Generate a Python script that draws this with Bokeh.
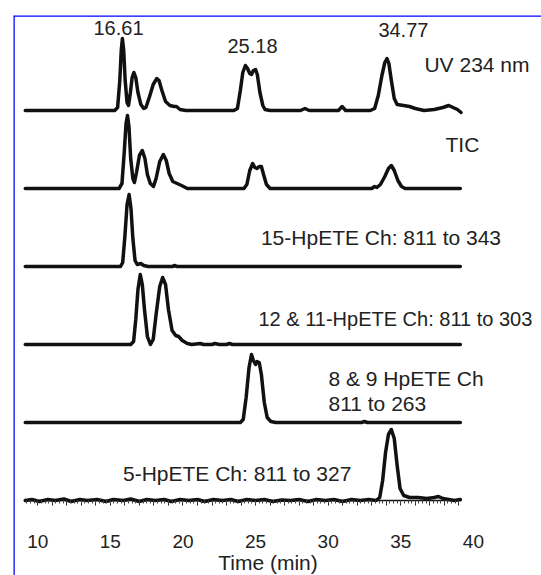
from bokeh.plotting import figure
from bokeh.models import Range1d, LinearAxis, FixedTicker, SingleIntervalTicker, Span
from bokeh.core.properties import value
from bokeh.embed import file_html
from bokeh.resources import INLINE

# ---------------- data (time in min, relative signal) ----------------
uv_time = [9.14, 12.0, 15.3, 15.5, 15.65, 15.75, 15.83, 15.92, 16.02, 16.15, 16.25, 16.38, 16.5, 16.62, 16.75,
           16.9, 17.1, 17.3, 17.45, 17.7, 17.95, 18.2, 18.35, 18.55, 18.8, 19.1, 19.4, 19.55, 19.8, 20.2,
           23.5, 23.75, 23.95, 24.12, 24.3, 24.45, 24.6, 24.72, 24.85, 25.0, 25.12, 25.3, 25.5, 25.65, 26.0,
           28.1, 28.4, 28.7, 30.7, 30.96, 31.2, 32.9, 33.2, 33.45, 33.7, 33.9, 34.05, 34.18, 34.35, 34.55,
           34.75, 35.2, 35.6, 36.0, 36.6, 37.3, 37.9, 38.3, 38.6, 38.9, 39.15]
uv_signal = [0, 0, 0, 3, 30, 60, 72, 60, 30, 8, 5, 18, 33, 38, 33,
             18, 6, 2, 3, 14, 26, 32, 30, 20, 9, 5, 4, 4, 1, 0,
             0, 2, 20, 38, 45, 42, 37, 36, 40, 41, 36, 18, 5, 1, 0,
             0, 2, 0, 0, 4, 0, 0, 2, 15, 35, 48, 52, 47, 30, 12,
             6, 5, 4, 2, 0, 1, 3, 5, 3, 1, -2]

tic_time = [9.14, 15.6, 15.8, 15.95, 16.08, 16.18, 16.28, 16.4, 16.55, 16.66, 16.8, 17.0, 17.2, 17.38, 17.55,
            17.75, 17.97, 18.15, 18.4, 18.65, 18.85, 19.05, 19.3, 19.6, 19.9, 20.3, 24.2, 24.4, 24.6, 24.8,
            24.95, 25.1, 25.25, 25.4, 25.55, 25.75, 26.0, 33.0, 33.2, 33.35, 33.6, 33.9, 34.15, 34.35, 34.55,
            34.8, 35.05, 35.3, 39.1]
tic_signal = [0, 0, 5, 35, 65, 73, 62, 30, 10, 6, 16, 33, 38, 30, 14,
              5, 2, 10, 27, 34, 28, 15, 7, 5, 3, 0, 0, 4, 18, 25,
              21, 20, 22, 22, 14, 4, 0, 0, 2, 1, 4, 12, 20, 23, 18,
              8, 2, 0, 0]

h15_time = [9.14, 15.7, 15.85, 16.0, 16.15, 16.29, 16.42, 16.55, 16.7, 16.85, 17.1, 17.3, 17.6, 19.3, 19.4, 19.6, 39.1]
h15_signal = [0, 0, 4, 30, 62, 72, 58, 28, 6, 2, 3, 1, 0, 0, 1, 0, 0]

h12_time = [9.14, 16.4, 16.6, 16.75, 16.9, 17.06, 17.2, 17.35, 17.55, 17.76, 17.95, 18.15, 18.4, 18.6, 18.8,
            19.0, 19.25, 19.5, 19.7, 19.95, 20.3, 20.6, 21.2, 21.4, 22.0, 22.2, 22.5, 23.0, 23.2, 23.4, 39.1]
h12_signal = [0, 0, 3, 25, 55, 70, 60, 35, 8, 0, 5, 30, 58, 67, 60,
              35, 14, 9, 8, 4, 1, 0, 1, 0, 0, 1, 0, 0, 1, 0, 0]

h8_time = [9.14, 23.95, 24.15, 24.35, 24.55, 24.72, 24.85, 25.0, 25.1, 25.25, 25.4, 25.6, 25.8, 26.05, 26.4,
           32.3, 32.5, 32.7, 39.1]
h8_signal = [0, 0, 3, 25, 55, 68, 62, 58, 61, 60, 48, 20, 5, 1, 0, 0, 1, 0, 0]

h5_time = [9.14, 9.6, 10.1, 10.7, 11.2, 11.8, 12.3, 12.9, 13.4, 14.1, 14.7, 15.2, 15.9, 16.4, 17.0, 17.5,
           18.1, 18.7, 19.2, 19.8, 20.4, 21.0, 21.5, 22.1, 22.7, 23.3, 23.8, 24.4, 25.0, 25.6, 26.2, 26.8,
           27.4, 28.0, 28.6, 29.2, 29.8, 30.4, 31.0, 31.6, 32.2, 32.8, 33.3, 33.55, 33.75, 33.95, 34.15,
           34.35, 34.55, 34.75, 34.95, 35.2, 35.6, 36.2, 36.8, 37.3, 37.6, 37.9, 38.3, 38.7, 39.1]
h5_signal = [0, 1, -1, 1, 0, 1.5, -1, 1, 0, 1, -1, 1, 0, 1.5, -1, 1,
             0, 1, -1, 1, 0, 1, -1, 1, 0, 1, -1, 1, 0, 1, -1, 0.5,
             0, 1, -1, 1, 0, 1, -1, 1, 0, 1, 0, 3, 20, 48, 66,
             71, 62, 35, 12, 5, 3, 3, 2, 3, 4, 2, 1, 0, 1]

tick_values = [10, 15, 20, 25, 30, 35, 40]

peak_labels = ["16.61", "25.18", "34.77"]
trace_labels = ["UV 234 nm", "TIC", "15-HpETE Ch: 811 to 343",
                "8 & 9 HpETE Ch", "811 to 263", "5-HpETE Ch: 811 to 327"]
label_12_11 = "12 & 11-HpETE Ch: 811 to 303"

# ---------------- layout ----------------
traces = [(uv_time, uv_signal), (tic_time, tic_signal), (h15_time, h15_signal),
          (h12_time, h12_signal), (h8_time, h8_signal), (h5_time, h5_signal)]
baselines = [465, 387, 309, 231, 153, 75]

X0, X1 = 8.33, 44.69
p = figure(width=541, height=575, output_backend="svg", toolbar_location=None,
           x_range=Range1d(X0, X1), y_range=Range1d(0, 560),
           x_axis_location=None, y_axis_location=None,
           min_border_left=13, min_border_right=0, min_border_top=15, min_border_bottom=0)
p.outline_line_color = None
p.xgrid.visible = False
p.ygrid.visible = False
p.background_fill_color = "white"
p.border_fill_color = "white"

for (t, s), b in zip(traces, baselines):
    p.line(list(t), [b + si for si in s], line_color="#111111", line_width=3.5,
           line_join="round", line_cap="round")

FONT = value("Liberation Sans")
p.text(x=[15.56, 24.79, 35.18], y=[548, 530, 546], text=peak_labels, text_font=FONT,
       text_font_size=value("20px"), text_align="center", text_baseline="middle", text_color="#222222")
p.text(x=[36.63, 38.08, 25.37, 30.02, 30.02, 15.87],
       y=[511, 431, 338, 197, 172, 102.5],
       text=trace_labels, text_font=FONT, text_font_size=value("21px"),
       text_align="left", text_baseline="middle", text_color="#222222")
p.text(x=[25.2], y=[257], text=[label_12_11], text_font=FONT, text_font_size=value("20px"),
       text_align="left", text_baseline="middle", text_color="#222222")

# axis line with ticks at the bottom trace
ax_ticks = LinearAxis(fixed_location=75, bounds=(9.14, 39.15),
                      ticker=SingleIntervalTicker(interval=1, num_minor_ticks=4))
ax_ticks.axis_line_color = "#111111"
ax_ticks.axis_line_width = 1.5
ax_ticks.major_tick_out = 5
ax_ticks.major_tick_in = 0
ax_ticks.minor_tick_out = 3
ax_ticks.minor_tick_in = 0
ax_ticks.major_tick_line_color = "#222222"
ax_ticks.minor_tick_line_color = "#444444"
ax_ticks.major_label_text_color = None
p.add_layout(ax_ticks, "below")

ax_labels = LinearAxis(fixed_location=75, bounds=(X0, 43.4), ticker=FixedTicker(ticks=tick_values),
                       axis_label="Time (min)")
ax_labels.axis_line_color = None
ax_labels.major_tick_line_color = None
ax_labels.minor_tick_line_color = None
ax_labels.major_tick_out = 0
ax_labels.major_label_standoff = 34
ax_labels.major_label_text_font = "Liberation Sans"
ax_labels.major_label_text_font_size = "19px"
ax_labels.major_label_text_color = "#222222"
ax_labels.axis_label_text_font = "Liberation Sans"
ax_labels.axis_label_text_font_size = "21px"
ax_labels.axis_label_text_font_style = "normal"
ax_labels.axis_label_text_color = "#222222"
ax_labels.axis_label_standoff = 0
p.add_layout(ax_labels, "below")

p.add_layout(Span(location=X0, dimension="height", line_color="#0000ff", line_width=2.5))
p.add_layout(Span(location=560, dimension="width", line_color="#0000ff", line_width=2.5))

open("out.html", "w").write(file_html(p, INLINE))
